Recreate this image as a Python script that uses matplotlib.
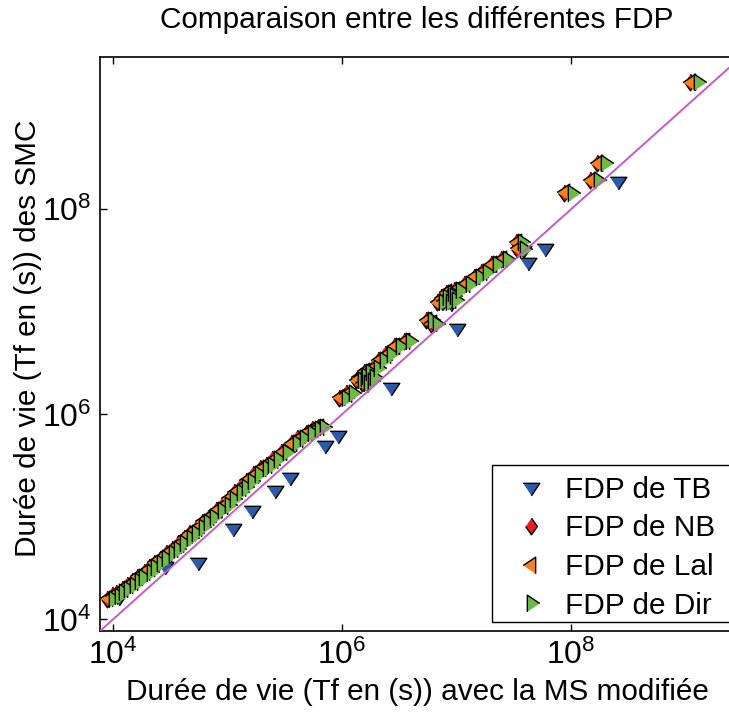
import matplotlib
matplotlib.use("Agg")
import matplotlib.pyplot as plt
from matplotlib.patches import Rectangle
import numpy as np

plt.rcParams['font.family'] = ['Liberation Sans', 'DejaVu Sans']
plt.rcParams['mathtext.fontset'] = 'custom'
plt.rcParams['mathtext.rm'] = 'Liberation Sans'
plt.rcParams['mathtext.it'] = 'Liberation Sans'
plt.rcParams['mathtext.default'] = 'regular'

# lifetimes, given as log10 of seconds
# x: lifetime from the modified MS, y: lifetime from the SMC
log_ms_dir = [4.004, 4.048, 4.083, 4.135, 4.179, 4.223, 4.266, 4.328, 4.371, 4.415,
              4.467, 4.520, 4.572, 4.624, 4.677, 4.721, 4.782, 4.834, 4.886, 4.956,
              5.009, 5.061, 5.114, 5.166, 5.218, 5.279, 5.341, 5.393, 5.445, 5.524,
              5.611, 5.664, 5.742, 5.795, 5.847, 6.031, 6.092, 6.179, 6.200, 6.214,
              6.231, 6.249, 6.260, 6.284, 6.319, 6.371, 6.432, 6.511, 6.598, 6.790,
              6.834, 6.886, 6.921, 6.940, 6.965, 6.980, 7.000, 7.035, 7.122, 7.210,
              7.271, 7.358, 7.445, 7.576, 7.590, 8.013, 8.240, 8.301, 9.114]
log_dir = [4.195, 4.224, 4.263, 4.293, 4.332, 4.371, 4.410, 4.459, 4.507, 4.546,
           4.595, 4.644, 4.683, 4.741, 4.790, 4.839, 4.898, 4.946, 4.995, 5.063,
           5.112, 5.171, 5.239, 5.288, 5.346, 5.415, 5.473, 5.502, 5.561, 5.629,
           5.717, 5.766, 5.815, 5.854, 5.873, 6.156, 6.205, 6.332, 6.350, 6.371,
           6.302, 6.410, 6.330, 6.361, 6.449, 6.527, 6.585, 6.663, 6.712, 6.917,
           6.880, 7.093, 7.141, 7.100, 7.180, 7.150, 7.112, 7.210, 7.268, 7.337,
           7.385, 7.463, 7.512, 7.678, 7.610, 8.156, 8.283, 8.449, 9.239]

log_ms_lal = [3.960, 4.000, 4.033, 4.087, 4.129, 4.176, 4.217, 4.281, 4.321, 4.368,
              4.417, 4.473, 4.521, 4.577, 4.627, 4.673, 4.732, 4.787, 4.836, 4.909,
              4.959, 5.014, 5.064, 5.118, 5.169, 5.231, 5.291, 5.346, 5.395, 5.477,
              5.561, 5.617, 5.692, 5.748, 5.797, 5.983, 6.042, 6.131, 6.151, 6.166,
              6.181, 6.201, 6.211, 6.236, 6.269, 6.323, 6.382, 6.463, 6.548, 6.742,
              6.784, 6.838, 6.871, 6.892, 6.915, 6.932, 6.951, 6.987, 7.072, 7.162,
              7.221, 7.310, 7.395, 7.528, 7.540, 7.950, 8.176, 8.238, 9.050]
log_lal = [4.205, 4.230, 4.255, 4.300, 4.340, 4.365, 4.420, 4.465, 4.500, 4.555,
           4.600, 4.650, 4.690, 4.735, 4.800, 4.845, 4.890, 4.955, 5.000, 5.070,
           5.105, 5.180, 5.245, 5.280, 5.355, 5.410, 5.480, 5.510, 5.555, 5.635,
           5.725, 5.760, 5.825, 5.860, 5.880, 6.165, 6.200, 6.340, 6.360, 6.365,
           6.310, 6.420, 6.340, 6.355, 6.455, 6.535, 6.580, 6.670, 6.720, 6.925,
           6.890, 7.100, 7.135, 7.110, 7.190, 7.155, 7.120, 7.215, 7.275, 7.345,
           7.390, 7.470, 7.520, 7.685, 7.620, 8.165, 8.290, 8.455, 9.245]

log_ms_nb = [3.950, 3.991, 4.023, 4.077, 4.119, 4.166, 4.208, 4.271, 4.312, 4.358,
             4.407, 4.464, 4.512, 4.567, 4.618, 4.663, 4.723, 4.777, 4.826, 4.900,
             4.950, 5.004, 5.055, 5.108, 5.160, 5.221, 5.282, 5.336, 5.386, 5.467,
             5.552, 5.607, 5.683, 5.738, 5.788, 5.973, 6.033, 6.121, 6.142, 6.156,
             6.172, 6.191, 6.202, 6.226, 6.260, 6.313, 6.373, 6.453, 6.539, 6.732,
             6.775, 6.828, 6.862, 6.882, 6.906, 6.922, 6.942, 6.977, 7.063, 7.152,
             7.212, 7.300, 7.386, 7.518, 7.531, 7.940, 8.167, 8.228, 9.041]
log_nb = [4.200, 4.235, 4.260, 4.295, 4.335, 4.375, 4.415, 4.460, 4.510, 4.550,
          4.590, 4.645, 4.688, 4.745, 4.795, 4.840, 4.895, 4.950, 4.990, 5.065,
          5.115, 5.175, 5.240, 5.290, 5.350, 5.420, 5.475, 5.505, 5.565, 5.630,
          5.720, 5.770, 5.820, 5.855, 5.875, 6.160, 6.210, 6.335, 6.355, 6.375,
          6.305, 6.415, 6.335, 6.365, 6.450, 6.530, 6.590, 6.665, 6.715, 6.920,
          6.885, 7.095, 7.145, 7.105, 7.185, 7.150, 7.115, 7.212, 7.270, 7.340,
          7.388, 7.465, 7.515, 7.680, 7.615, 8.160, 8.285, 8.450, 9.242]

log_ms_tb = [4.050, 4.450, 4.738, 5.052, 5.218, 5.419, 5.550, 5.856, 5.961,
             6.220, 6.424, 6.950, 7.009, 7.580, 7.629, 7.777, 8.415]
log_tb = [4.215, 4.520, 4.556, 4.888, 5.063, 5.259, 5.385, 5.698, 5.795,
          6.300, 6.263, 7.090, 6.839, 7.600, 7.483, 7.620, 8.273]

labels = ['FDP de TB', 'FDP de NB', 'FDP de Lal', 'FDP de Dir']

# triangle / diamond markers centred on their centroid, like matlab
m_down = [(-1, 0.5), (1, 0.5), (0, -1)]
m_left = [(0.5, -1), (0.5, 1), (-1, 0)]
m_right = [(-0.5, -1), (-0.5, 1), (1, 0)]
m_diam = [(0, 1), (0.7, 0), (0, -1), (-0.7, 0)]

fig = plt.figure(figsize=(7.29, 7.13), dpi=100)
ax = fig.add_axes([0.1372, 0.1150, 0.8793, 0.8050])

kw = dict(linestyle='none', markersize=12, markeredgecolor='black', markeredgewidth=1.0)
ax.plot(10 ** np.array(log_ms_tb), 10 ** np.array(log_tb), marker=m_down,
        markerfacecolor='#2c5aa8', label=labels[0], **kw)
ax.plot(10 ** np.array(log_ms_nb), 10 ** np.array(log_nb), marker=m_diam,
        markerfacecolor='#ee1d25', label=labels[1], **kw)
ax.plot(10 ** np.array(log_ms_lal), 10 ** np.array(log_lal), marker=m_left,
        markerfacecolor='#f5821f', label=labels[2], **kw)
ax.plot(10 ** np.array(log_ms_dir), 10 ** np.array(log_dir), marker=m_right,
        markerfacecolor='#6dbb45', label=labels[3], **kw)

lo, hi = 7.7e3, 3.06e9
ax.plot([lo, hi], [lo, hi], color='#c65bc4', lw=1.4, zorder=3)

ax.set_xscale('log')
ax.set_yscale('log')
ax.set_xlim(lo, hi)
ax.set_ylim(lo, hi)
ticks = [1e4, 1e6, 1e8]
ax.set_xticks(ticks)
ax.set_yticks(ticks)
ax.set_xticklabels([r'$10^{4}$', r'$10^{6}$', r'$10^{8}$'])
ax.set_yticklabels([r'$10^{4}$', r'$10^{6}$', r'$10^{8}$'])
ax.minorticks_off()
ax.tick_params(direction='in', length=5, width=1, top=True, right=True,
               labelsize=23, pad=6)
for s in ax.spines.values():
    s.set_linewidth(1.2)

# legend box runs past the right edge of the picture, as in the original:
# white fill, then an open outline (left, top, bottom) so no right side shows
x0, y0, x1, y1 = 0.6115, 0.0157, 1.06, 0.2887
ax.add_patch(Rectangle((x0, y0), x1 - x0, y1 - y0, transform=ax.transAxes,
                       facecolor='white', edgecolor='none', zorder=4, clip_on=False))
ax.plot([x1, x0, x0, x1], [y1, y1, y0, y0], color='black', lw=1.0,
        transform=ax.transAxes, zorder=4.5, clip_on=False)
leg = ax.legend(handles=ax.get_lines()[:4], loc='upper left', bbox_to_anchor=(x0, y1),
                borderaxespad=0, fontsize=21.4, handlelength=1.9, handletextpad=0.2,
                labelspacing=0.36, borderpad=0.35, frameon=False)
leg.set_zorder(5)

fig.text(417 / 729, 1 - 20 / 713, 'Comparaison entre les différentes FDP',
         ha='center', va='center', fontsize=21.4)
fig.text(417 / 729, 1 - 692 / 713, 'Durée de vie (Tf en (s)) avec la MS modifiée',
         ha='center', va='center', fontsize=21.4)
fig.text(28 / 729, 1 - 338 / 713, 'Durée de vie (Tf en (s)) des SMC',
         ha='center', va='center', rotation=90, fontsize=21.4)

fig.savefig('out.png', dpi=100)
